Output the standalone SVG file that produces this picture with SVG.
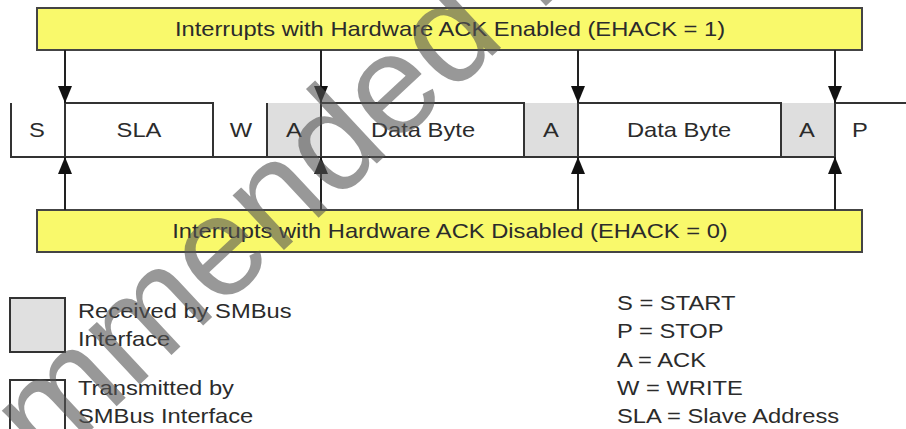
<svg xmlns="http://www.w3.org/2000/svg" width="906" height="429" viewBox="0 0 906 429">
<style>
.t{font-family:"Liberation Sans",Arial,sans-serif;font-size:21px;fill:#2b2b2b}
.m{text-anchor:middle}
.bar{fill:#f9f96b;stroke:#444;stroke-width:2}
.ln{fill:none;stroke:#333;stroke-width:2}
.rx{fill:#dedede;stroke:none}
.cn{stroke:#222;stroke-width:2;fill:none}
.wm{font-family:"Liberation Sans",Arial,sans-serif;font-size:142px;fill:#555;opacity:0.6}
</style>
<defs>
<marker id="ah" viewBox="0 0 17 14" markerWidth="17" markerHeight="14" refX="17" refY="7" orient="auto" markerUnits="userSpaceOnUse">
<path d="M0,0 L17,7 L0,14 z" fill="#111"/>
</marker>
</defs>
<rect width="906" height="429" fill="#fff"/>

<g id="bar-enabled">
<rect class="bar" x="37" y="8" width="825" height="42"/>
<text class="t m" transform="translate(450,36) scale(1.13,1)">Interrupts with Hardware ACK Enabled (EHACK = 1)</text>
</g>
<g id="bar-disabled">
<rect class="bar" x="37" y="210" width="825" height="42"/>
<text class="t m" transform="translate(450,238) scale(1.13,1)">Interrupts with Hardware ACK Disabled (EHACK = 0)</text>
</g>

<g id="frame">
<g id="f-ack1"><rect class="rx" x="267" y="103" width="54" height="54"/><text class="t m" transform="translate(294,137) scale(1.13,1)">A</text></g>
<g id="f-ack2"><rect class="rx" x="524" y="103" width="54" height="54"/><text class="t m" transform="translate(551,137) scale(1.13,1)">A</text></g>
<g id="f-ack3"><rect class="rx" x="781" y="103" width="54" height="54"/><text class="t m" transform="translate(807,137) scale(1.13,1)">A</text></g>
<g id="f-start"><path class="ln" d="M11,103 V157 H835"/><text class="t m" transform="translate(37,137) scale(1.13,1)">S</text></g>
<g id="f-sla"><path class="ln" d="M65,157 V103 H213 V157"/><text class="t m" transform="translate(139,137) scale(1.13,1)">SLA</text></g>
<g id="f-w"><path class="ln" d="M267,103 V157"/><text class="t m" transform="translate(241,137) scale(1.13,1)">W</text></g>
<g id="f-data1"><path class="ln" d="M321,157 V103 H524 V157"/><text class="t m" transform="translate(423,137) scale(1.13,1)">Data Byte</text></g>
<g id="f-data2"><path class="ln" d="M578,157 V103 H781 V157"/><text class="t m" transform="translate(679,137) scale(1.13,1)">Data Byte</text></g>
<g id="f-stop"><path class="ln" d="M835,157 V103 H906"/><text class="t m" transform="translate(860,137) scale(1.13,1)">P</text></g>
</g>

<g id="connectors">
<line class="cn" x1="65" y1="50" x2="65" y2="103" marker-end="url(#ah)"/>
<line class="cn" x1="321" y1="50" x2="321" y2="103" marker-end="url(#ah)"/>
<line class="cn" x1="578" y1="50" x2="578" y2="103" marker-end="url(#ah)"/>
<line class="cn" x1="835" y1="50" x2="835" y2="103" marker-end="url(#ah)"/>
<line class="cn" x1="65" y1="210" x2="65" y2="157" marker-end="url(#ah)"/>
<line class="cn" x1="321" y1="210" x2="321" y2="157" marker-end="url(#ah)"/>
<line class="cn" x1="578" y1="210" x2="578" y2="157" marker-end="url(#ah)"/>
<line class="cn" x1="835" y1="210" x2="835" y2="157" marker-end="url(#ah)"/>
</g>

<g id="legend-received">
<rect x="10" y="298" width="55" height="54" fill="#e0e0e0" stroke="#333" stroke-width="2"/>
<text class="t" transform="translate(78,318) scale(1.13,1)">Received by SMBus</text>
<text class="t" transform="translate(78,346) scale(1.13,1)">Interface</text>
</g>
<g id="legend-transmitted">
<rect x="10" y="380" width="55" height="60" fill="#fff" stroke="#333" stroke-width="2"/>
<text class="t" transform="translate(78,395) scale(1.13,1)">Transmitted by</text>
<text class="t" transform="translate(78,423) scale(1.13,1)">SMBus Interface</text>
</g>
<g id="legend-abbrev">
<text class="t" transform="translate(617,310) scale(1.13,1)">S = START</text>
<text class="t" transform="translate(617,338) scale(1.13,1)">P = STOP</text>
<text class="t" transform="translate(617,367) scale(1.13,1)">A = ACK</text>
<text class="t" transform="translate(617,395) scale(1.13,1)">W = WRITE</text>
<text class="t" transform="translate(617,423) scale(1.13,1)">SLA = Slave Address</text>
</g>

<text class="wm" transform="translate(46,472) rotate(-43)">mmended fo</text>
</svg>
